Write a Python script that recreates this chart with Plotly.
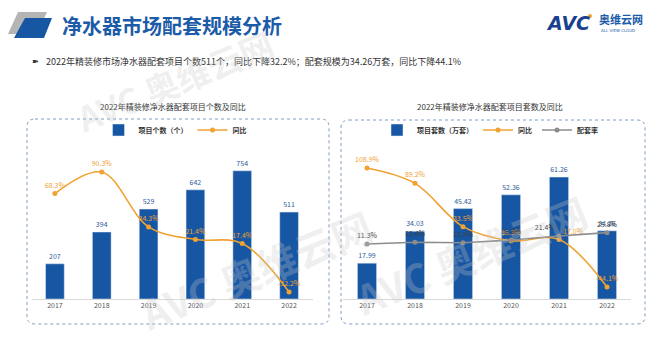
import plotly.graph_objects as go

W, H = 667, 351
FONT = "Noto Sans CJK SC"

years = ["2017", "2018", "2019", "2020", "2021", "2022"]
project_count = [207, 394, 529, 642, 754, 511]
count_yoy = [68.3, 90.3, 34.3, 21.4, 17.4, -32.2]
set_count = [17.99, 34.03, 45.42, 52.36, 61.26, 34.26]
set_yoy = [108.9, 89.2, 33.5, 15.3, 17.0, -44.1]
match_rate = [11.3, 13.4, 12.9, 16.3, 21.4, 25.8]

BLUE = "#1656A3"
ORANGE = "#F0A232"
GRAY = "#8C8C8C"


def px(x):
    return x / W


def py(y):
    return 1 - y / H


fig = go.Figure()

# Left chart
fig.add_trace(go.Bar(
    x=years, y=project_count, name="项目个数（个）", marker_color=BLUE, width=0.4,
    text=[str(v) for v in project_count], textposition="outside", cliponaxis=False,
    textfont=dict(size=7, color="#2F5C9A"), xaxis="x", yaxis="y", legend="legend"))
fig.add_trace(go.Scatter(
    x=years, y=count_yoy, name="同比", mode="lines+markers+text",
    line=dict(color=ORANGE, width=1.6, shape="spline", smoothing=1.0),
    marker=dict(size=5, color=ORANGE),
    text=[f"{v:.1f}%" for v in count_yoy], textposition="top center",
    textfont=dict(size=7, color=ORANGE), cliponaxis=False,
    xaxis="x", yaxis="y2", legend="legend"))

# Right chart
fig.add_trace(go.Bar(
    x=years, y=set_count, name="项目套数（万套）", marker_color=BLUE, width=0.4,
    text=[f"{v:.2f}" for v in set_count], textposition="outside", cliponaxis=False,
    textfont=dict(size=7, color="#2F5C9A"), xaxis="x2", yaxis="y3", legend="legend2"))
fig.add_trace(go.Scatter(
    x=years, y=set_yoy, name="同比", mode="lines+markers+text",
    line=dict(color=ORANGE, width=1.6, shape="spline", smoothing=1.0),
    marker=dict(size=5, color=ORANGE),
    text=[f"{v:.1f}%" for v in set_yoy],
    textposition=["top center", "top center", "top center", "top center", "top right", "top center"],
    textfont=dict(size=7, color=ORANGE), cliponaxis=False,
    xaxis="x2", yaxis="y4", legend="legend2"))
fig.add_trace(go.Scatter(
    x=years, y=match_rate, name="配套率", mode="lines+markers+text",
    line=dict(color=GRAY, width=1.6),
    marker=dict(size=5, color=GRAY),
    text=[f"{v:.1f}%" for v in match_rate],
    textposition=["top center", "top center", "top center", "top center", "top left", "top center"],
    textfont=dict(size=7, color="#404040"), cliponaxis=False,
    xaxis="x2", yaxis="y4", legend="legend2"))

xcommon = dict(type="category", showgrid=False, zeroline=False, showline=True,
               linecolor="#D9D9D9", linewidth=1, ticks="",
               tickfont=dict(size=7, color="#555555", family=FONT), fixedrange=True)
ycommon = dict(visible=False, showgrid=False, zeroline=False, fixedrange=True)

ybot, ytop = py(299), py(140)

fig.update_layout(
    width=W, height=H, margin=dict(l=0, r=0, t=0, b=0),
    paper_bgcolor="white", plot_bgcolor="rgba(0,0,0,0)",
    font=dict(family=FONT, color="#333333"),
    xaxis=dict(domain=[px(31.5), px(312.5)], anchor="y", **xcommon),
    yaxis=dict(domain=[ybot, ytop], range=[0, 935], anchor="x", **ycommon),
    yaxis2=dict(range=[-39.3, 123], overlaying="y", anchor="x", **ycommon),
    xaxis2=dict(domain=[px(343), px(631)], anchor="y3", **xcommon),
    yaxis3=dict(domain=[ybot, ytop], range=[0, 79.9], anchor="x2", **ycommon),
    yaxis4=dict(range=[-59.5, 144.9], overlaying="y3", anchor="x2", **ycommon),
    legend=dict(orientation="h", x=px(175), y=py(130), xanchor="center", yanchor="middle",
                font=dict(size=7, color="#333333", family=FONT, weight="bold"),
                bgcolor="rgba(0,0,0,0)", itemwidth=30, tracegroupgap=0),
    legend2=dict(orientation="h", x=px(490), y=py(130), xanchor="center", yanchor="middle",
                 font=dict(size=7, color="#333333", family=FONT, weight="bold"),
                 bgcolor="rgba(0,0,0,0)", itemwidth=30, tracegroupgap=0),
    showlegend=True,
)


def rounded_rect(x0, y0, x1, y1, r):
    X0, X1 = px(x0), px(x1)
    Y0, Y1 = py(y0), py(y1)
    rx, ry = r / W, r / H
    return (f"M {X0+rx},{Y0} L {X1-rx},{Y0} Q {X1},{Y0} {X1},{Y0-ry} "
            f"L {X1},{Y1+ry} Q {X1},{Y1} {X1-rx},{Y1} L {X0+rx},{Y1} "
            f"Q {X0},{Y1} {X0},{Y1+ry} L {X0},{Y0-ry} Q {X0},{Y0} {X0+rx},{Y0} Z")


def poly(points):
    return "M " + " L ".join(f"{px(x)},{py(y)}" for x, y in points) + " Z"


shapes = [
    dict(type="path", path=rounded_rect(27, 119, 329, 324, 8), xref="paper", yref="paper",
         line=dict(color="#7F9CC2", width=1, dash="dot"), layer="below"),
    dict(type="path", path=rounded_rect(341, 120, 645, 324, 8), xref="paper", yref="paper",
         line=dict(color="#7F9CC2", width=1, dash="dot"), layer="below"),
    dict(type="path", path=poly([(18, 12), (47, 12), (37, 34), (8, 34)]), xref="paper", yref="paper",
         fillcolor="#B5B5B5", line=dict(width=0), layer="below"),
    dict(type="path", path=poly([(25, 18), (52, 18), (44, 38), (14, 38)]), xref="paper", yref="paper",
         fillcolor="#1656A3", line=dict(width=0), layer="below"),
    dict(type="circle", x0=px(588), x1=px(592), y0=py(14), y1=py(18), xref="paper", yref="paper",
         fillcolor="#F0A232", line=dict(width=0)),
]
fig.update_layout(shapes=shapes)

annotations = [
    dict(text="<b>净水器市场配套规模分析</b>", x=px(60), y=py(25), xanchor="left", yanchor="middle",
         font=dict(size=20, color="#1C5BA8", family=FONT), showarrow=False, xref="paper", yref="paper"),
    dict(text="<b><i>AVC</i></b>", x=px(544), y=py(23), xanchor="left", yanchor="middle",
         font=dict(size=19, color="#1B3F8F", family="DejaVu Sans"), showarrow=False, xref="paper", yref="paper"),
    dict(text="<b>奥维云网</b>", x=px(597), y=py(19), xanchor="left", yanchor="middle",
         font=dict(size=11, color="#1C5BA8", family=FONT), showarrow=False, xref="paper", yref="paper"),
    dict(text="ALL VIEW CLOUD", x=px(599), y=py(31), xanchor="left", yanchor="middle",
         font=dict(size=4, color="#1C5BA8", family="DejaVu Sans"), showarrow=False, xref="paper", yref="paper"),
    dict(text="➽", x=px(30), y=py(62), xanchor="left", yanchor="middle",
         font=dict(size=8, color="#333333", family="DejaVu Sans"), showarrow=False, xref="paper", yref="paper"),
    dict(text="2022年精装修市场净水器配套项目个数511个，同比下降32.2%；配套规模为34.26万套，同比下降44.1%",
         x=px(44), y=py(62), xanchor="left", yanchor="middle",
         font=dict(size=9, color="#333333", family=FONT), showarrow=False, xref="paper", yref="paper"),
    dict(text="2022年精装修净水器配套项目个数及同比", x=px(173), y=py(107), xanchor="center", yanchor="middle",
         font=dict(size=8, color="#333333", family=FONT), showarrow=False, xref="paper", yref="paper"),
    dict(text="2022年精装修净水器配套项目套数及同比", x=px(490), y=py(107), xanchor="center", yanchor="middle",
         font=dict(size=8, color="#333333", family=FONT), showarrow=False, xref="paper", yref="paper"),
]

# faint watermarks
for (wx, wy, sz) in [(175, 80, 34), (255, 270, 40), (470, 255, 40)]:
    annotations.append(dict(text="<b>AVC 奥维云网</b>", x=px(wx), y=py(wy), xanchor="center", yanchor="middle",
                            textangle=-22, font=dict(size=sz, color="rgba(200,200,200,0.28)", family=FONT),
                            showarrow=False, xref="paper", yref="paper"))

fig.update_layout(annotations=annotations)

fig.write_html("out.html")
